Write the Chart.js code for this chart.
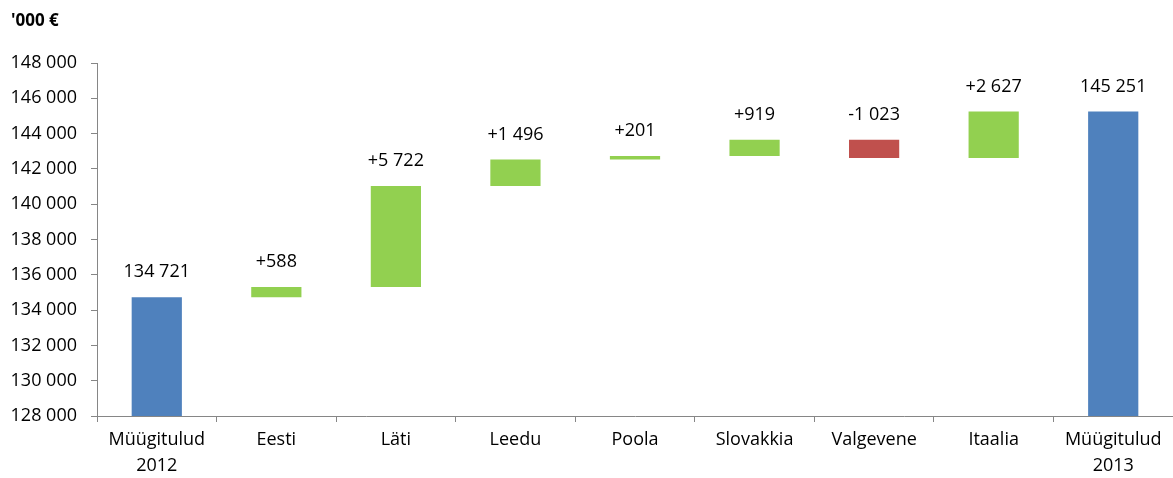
<!DOCTYPE html>
<html>
<head>
<meta charset="utf-8">
<script src="https://cdn.jsdelivr.net/npm/chart.js@4"></script>
<style>
  body { margin: 0; background: #fff; }
  #wrap { width: 1173px; height: 478px; }
</style>
</head>
<body>
<div id="wrap"><canvas id="chart"></canvas></div>
<script>
let categories = [['Müügitulud', '2012'], 'Eesti', 'Läti', 'Leedu', 'Poola', 'Slovakkia', 'Valgevene', 'Itaalia', ['Müügitulud', '2013']];
let startValue = 134721;
let changes = [588, 5722, 1496, 201, 919, -1023, 2627];
let endValue = 145251;
let yTicks = [128000, 130000, 132000, 134000, 136000, 138000, 140000, 142000, 144000, 146000, 148000];

let blue = '#4F81BD';
let green = '#92D050';
let red = '#C0504D';
let axisColor = '#868686';
let font = "'Open Sans', sans-serif";

function fmt(n) {
    return Math.abs(n).toString().replace(/\B(?=(\d{3})+(?!\d))/g, ' ');
}

// build floating bars
let bars = [[yTicks[0], startValue]];
let labels = [fmt(startValue)];
let colors = [blue];
let running = startValue;
changes.forEach(c => {
    let next = running + c;
    bars.push([Math.min(running, next), Math.max(running, next)]);
    labels.push((c >= 0 ? '+' : '-') + fmt(c));
    colors.push(c >= 0 ? green : red);
    running = next;
});
bars.push([yTicks[0], endValue]);
labels.push(fmt(endValue));
colors.push(blue);

let extras = {
    id: 'extras',
    afterDatasetsDraw(chart) {
        let c = chart.ctx;
        let meta = chart.getDatasetMeta(0);
        c.save();
        c.fillStyle = '#000';
        c.font = '18px ' + font;
        c.textAlign = 'center';
        c.textBaseline = 'middle';
        meta.data.forEach((bar, i) => {
            let top = Math.min(bar.y, bar.base);
            c.fillText(labels[i], bar.x, top - 25);
        });
        c.font = 'bold 17px ' + font;
        c.textAlign = 'left';
        c.fillText("'000 €", 11, 21);
        c.restore();
    }
};

new Chart(document.getElementById('chart').getContext('2d'), {
    type: 'bar',
    data: {
        labels: categories,
        datasets: [{
            data: bars,
            backgroundColor: colors,
            borderWidth: 0,
            barPercentage: 0.42,
            categoryPercentage: 1
        }]
    },
    options: {
        responsive: true,
        maintainAspectRatio: false,
        animation: false,
        layout: { padding: { top: 63, right: 0, left: 0, bottom: 0 } },
        plugins: {
            legend: { display: false },
            tooltip: { enabled: false }
        },
        scales: {
            x: {
                grid: { offset: true, drawOnChartArea: false, tickLength: 6, color: axisColor },
                border: { color: axisColor },
                ticks: { color: '#000', font: { size: 18, family: font, lineHeight: 1.45 }, padding: 5 },
                afterFit(scale) { scale.height = 62; }
            },
            y: {
                min: 128000,
                max: 148000,
                afterBuildTicks(scale) { scale.ticks = yTicks.map(v => ({ value: v })); },
                afterFit(scale) { scale.width = 97; },
                grid: { drawOnChartArea: false, tickLength: 6, color: axisColor },
                border: { color: axisColor },
                ticks: { color: '#000', font: { size: 18, family: font }, padding: 14, callback: v => fmt(v) }
            }
        }
    },
    plugins: [extras]
});
</script>
</body>
</html>
